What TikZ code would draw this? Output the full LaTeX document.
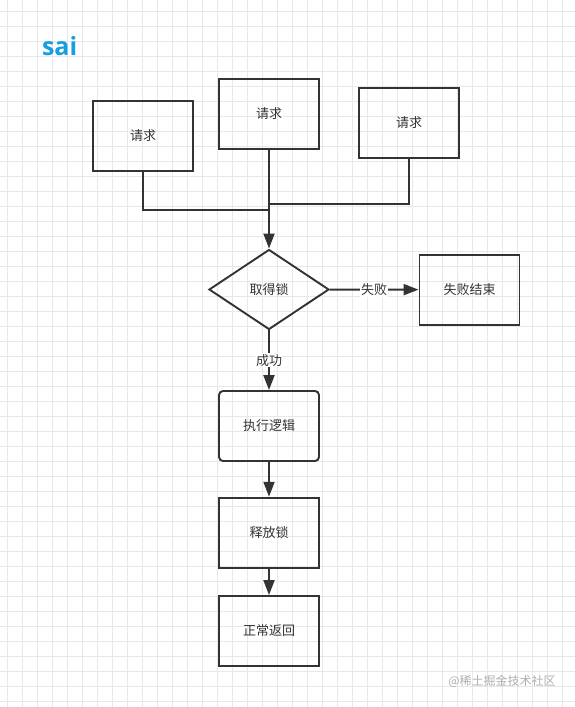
\documentclass[tikz,border=0pt]{standalone}
\usepackage{fontspec}
\setmainfont{Noto Sans CJK SC}
\newfontfamily\titlefont{Open Sans}
\usetikzlibrary{positioning,arrows.meta,shapes.geometric}
\definecolor{ink}{RGB}{51,51,51}
\definecolor{gridline}{RGB}{232,232,232}
\definecolor{saiblue}{RGB}{22,158,225}
\definecolor{markgray}{RGB}{175,175,175}

\begin{document}
\begin{tikzpicture}[x=1pt,y=-1pt,
  box/.style={draw=ink,line width=1.9pt,minimum width=100pt,minimum height=70pt,
    inner sep=0pt,text=ink,font=\fontsize{13}{15}\selectfont},
  decision/.style={box,diamond,minimum width=120pt,minimum height=80pt},
  link/.style={draw=ink,line width=1.9pt},
  flow/.style={link,-{Triangle[length=15pt,width=11pt]}},
  tag/.style={fill=white,inner sep=1pt,text=ink,font=\fontsize{13}{15}\selectfont}]
\fill[white] (0,0) rectangle (575,707);
\useasboundingbox (0,0) rectangle (575,707);
% background grid, 15px
\foreach \gx in {0,...,37} {\draw[gridline,line width=0.8pt] ({7.3+15*\gx},0) -- ({7.3+15*\gx},707);}
\foreach \gy in {0,...,46} {\draw[gridline,line width=0.8pt] (0,{11.7+15*\gy}) -- (575,{11.7+15*\gy});}
\node[anchor=base west,text=saiblue,font=\titlefont\bfseries\fontsize{25}{30}\selectfont] (title) at (38.5,55.5) {sai};
% requests
\node[box] (reqA) at (143,135.8) {请求};
\node[box] (reqB) at (269,114) {请求};
\node[box] (reqC) at (409,123) {请求};
\coordinate (joinL) at (269,210);
\coordinate (joinR) at (269,203.7);
\draw[link] (reqA.south) |- (joinL);
\draw[link] (reqC.south) |- (joinR);
% lock
\node[decision] (lock) at (269,289.5) {取得锁};
\node[box] (fail) at (469.5,289.7) {失败结束};
\draw[flow] (reqB) -- (lock);
\draw[flow] (lock) -- node[tag] {失败} (fail);
% success path
\node[box,rounded corners=4pt] (exec) at (269,426) {执行逻辑};
\node[box] (release) at (269,532.7) {释放锁};
\node[box] (back) at (269,631) {正常返回};
\draw[flow] (lock) -- node[tag] {成功} (exec);
\draw[flow] (exec) -- (release);
\draw[flow] (release) -- (back);
\node[text=markgray,font=\fontsize{12}{14}\selectfont] (mark) at (502,681.7) {@稀土掘金技术社区};
\end{tikzpicture}
\end{document}
